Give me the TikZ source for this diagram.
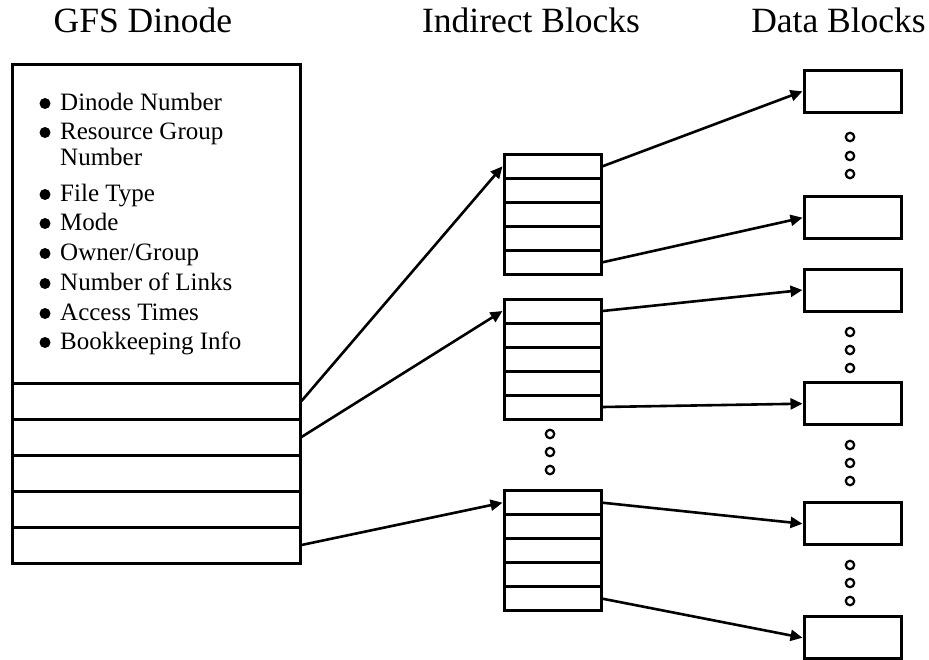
\documentclass[tikz,border=0pt]{standalone}
\usepackage{fontspec}
\setmainfont{Liberation Serif}
\usetikzlibrary{arrows.meta}

\begin{document}
\begin{tikzpicture}[x=1pt, y=-1pt, >={Triangle[length=12pt,width=11pt]}, ttl/.style={anchor=base, inner sep=0pt, font=\fontsize{35.5}{40}\selectfont}, itm/.style={anchor=base west, inner sep=0pt, font=\fontsize{25}{26}\selectfont}, cell/.style={draw, line width=3pt, minimum width=288pt, minimum height=36pt, inner sep=0pt}, ind/.style={draw, line width=3pt, minimum width=97pt, minimum height=24pt, inner sep=0pt}, dat/.style={draw, line width=3pt, minimum width=97pt, minimum height=42pt, inner sep=0pt}, dot/.style={draw, circle, line width=2.2pt, minimum size=8.5pt, inner sep=0pt}, ptr/.style={->, line width=2.6pt}]
	\useasboundingbox (0,0) rectangle (929,659);
	\node[ttl] (tdin) at (143,32) {GFS Dinode};
	\node[ttl] (tind) at (531,32) {Indirect Blocks};
	\node[ttl] (tdat) at (838.5,32) {Data Blocks};
	% dinode
	\node[draw, line width=3pt, minimum width=288pt, minimum height=319pt, inner sep=0pt] (din) at (156,223.5) {};
	\foreach \k in {1,...,5}
		\node[cell] (d\k) at (156,365+36*\k) {};
	\foreach \n/\y/\t in {1/110/Dinode Number, 2/139/Resource Group, 3/201/File Type, 4/230/Mode, 5/260/{Owner/Group}, 6/290/Number of Links, 7/320/Access Times, 8/349/Bookkeeping Info} {
		\fill (45,\y-6.5) circle (5.5);
		\node[itm] (it\n) at (60,\y) {\t};
	}
	\node[itm] (it2b) at (60,165) {Number};
	% indirect blocks
	\foreach \b/\t in {1/154.3, 2/299, 3/490.7}
		\foreach \k in {1,...,5}
			\node[ind] (i\b-\k) at (552.5,\t+24*\k-12) {};
	\foreach \y in {434,452,470}
		\node[dot] (idot\y) at (550,\y) {};
	% data blocks
	\foreach \n/\y in {1/91.3, 2/217.7, 3/290, 4/403.7, 5/523.7, 6/637.7}
		\node[dat] (db\n) at (852.5,\y) {};
	\foreach \y in {137,156,174,332,350,368,445,463,481,565,583,601}
		\node[dot] (ddot\y) at (850,\y) {};
	% pointers
	\draw[ptr] (d1.east) -- (i1-1.west);
	\draw[ptr] (d2.east) -- (i2-1.west);
	\draw[ptr] (d5.east) -- (i3-1.west);
	\draw[ptr] (i1-1.east) -- (db1.west);
	\draw[ptr] (i1-5.east) -- (db2.west);
	\draw[ptr] (i2-1.east) -- (db3.west);
	\draw[ptr] (i2-5.east) -- (db4.west);
	\draw[ptr] (i3-1.east) -- (db5.west);
	\draw[ptr] (i3-5.east) -- (db6.west);
\end{tikzpicture}
\end{document}
